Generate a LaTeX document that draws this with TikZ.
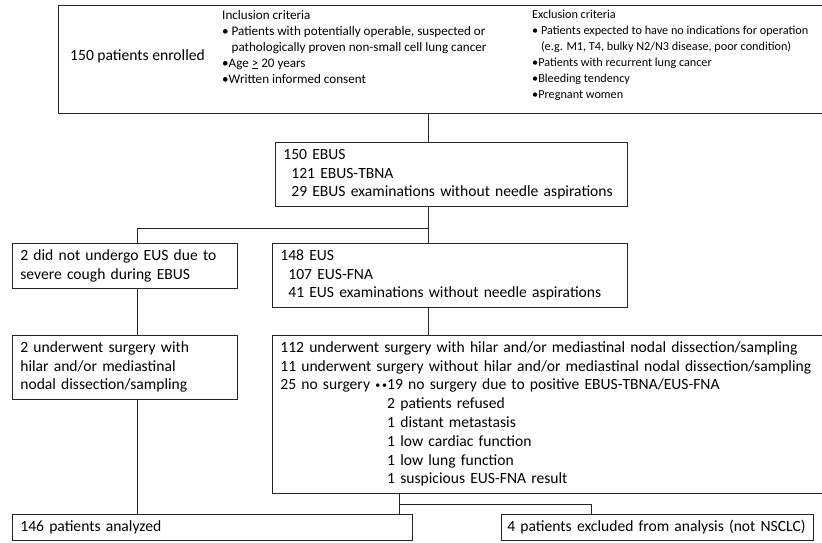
\documentclass[tikz,border=0pt]{standalone}
\usepackage{fontspec}
\setmainfont{Carlito}
\newcommand\mainsize{\fontsize{15.6}{18.8}\selectfont}
\newcommand\crsize{\fontsize{13.1}{16}\selectfont}
\newcommand\exsize{\fontsize{12.2}{16}\selectfont}
\newcommand\twodots{\raisebox{1.5pt}{\fontsize{10}{10}\selectfont•\kern2pt•}}
\tikzset{
  frame/.style={draw=black!85, line width=0.7pt},
  box/.style={frame, anchor=north west, inner xsep=8pt, inner ysep=3.7pt,
    align=left, font=\mainsize, execute at begin node=\strut, execute at end node=\strut},
  crit/.style={anchor=north west, inner sep=0pt, align=left, font=\crsize,
    execute at begin node=\strut, execute at end node=\strut},
  link/.style={draw=black!85, line width=0.7pt}
}
\begin{document}
\begin{tikzpicture}[x=1pt,y=-1pt]
\useasboundingbox (0,0) rectangle (822,543);
\clip (0,0) rectangle (822,543);
\fill[white] (0,0) rectangle (822,543);

% top box
\node[frame, anchor=north west, minimum width=772pt, minimum height=108pt, inner sep=0pt] (top) at (58,5) {};
\node[anchor=west, inner sep=0pt, font=\mainsize] (enr) at (70,56) {150 patients enrolled};
\node[crit] (incl) at (222,10) {Inclusion criteria\\
• Patients with potentially operable, suspected or\\
\phantom{• }pathologically proven non-small cell lung cancer\\
•Age \underline{>} 20 years\\
•Written informed consent};
\node[crit, font=\exsize] (excl) at (532,10) {Exclusion criteria\\
• Patients expected to have no indications for operation\\
\phantom{• }(e.g. M1, T4, bulky N2/N3 disease, poor condition)\\
•Patients with recurrent lung cancer\\
•Bleeding tendency\\
•Pregnant women};

% second level
\node[box, text width=336pt] (ebus) at (275,142) {150 EBUS\\
\hspace*{8pt}121 EBUS-TBNA\\
\hspace*{8pt}29 EBUS examinations without needle aspirations};

\node[box, text width=209pt] (nocough) at (12,243) {2 did not undergo EUS due to\\
severe cough during EBUS};

\node[box, text width=339pt] (eus) at (272,243) {148 EUS\\
\hspace*{8pt}107 EUS-FNA\\
\hspace*{8pt}41 EUS examinations without needle aspirations};

\node[box, text width=209pt] (surg2) at (12,335) {2 underwent surgery with\\
hilar and/or mediastinal\\
nodal dissection/sampling};

\node[box, text width=542pt] (big) at (272,335) {112 underwent surgery with hilar and/or mediastinal nodal dissection/sampling\\
11 underwent surgery without hilar and/or mediastinal nodal dissection/sampling\\
25 no surgery \twodots19 no surgery due to positive EBUS-TBNA/EUS-FNA\\
\phantom{25 no surgery \twodots}2 patients refused\\
\phantom{25 no surgery \twodots}1 distant metastasis\\
\phantom{25 no surgery \twodots}1 low cardiac function\\
\phantom{25 no surgery \twodots}1 low lung function\\
\phantom{25 no surgery \twodots}1 suspicious EUS-FNA result};

\node[box, text width=384pt] (analyzed) at (12,514) {146 patients analyzed};
\node[box, inner xsep=6pt, text width=300pt] (excluded) at (501,514) {4 patients excluded from analysis (not NSCLC)};

% connector guides
\coordinate (jx) at (428,0);
\coordinate (lx) at (137,0);
\coordinate (bx) at (399,0);
\coordinate (rx) at (591,0);
\coordinate (j1) at (428,228);
\coordinate (j2) at (399,504);

\draw[link] (top.south -| jx) -- (ebus.north -| jx);
\draw[link] (ebus.south -| jx) -- (eus.north -| jx);
\draw[link] (j1) -- (j1 -| lx) -- (nocough.north -| lx);
\draw[link] (nocough.south -| lx) -- (surg2.north -| lx);
\draw[link] (surg2.south -| lx) -- (analyzed.north -| lx);
\draw[link] (eus.south -| jx) -- (big.north -| jx);
\draw[link] (big.south -| bx) -- (analyzed.north -| bx);
\draw[link] (j2) -- (j2 -| rx) -- (excluded.north -| rx);
\end{tikzpicture}
\end{document}
